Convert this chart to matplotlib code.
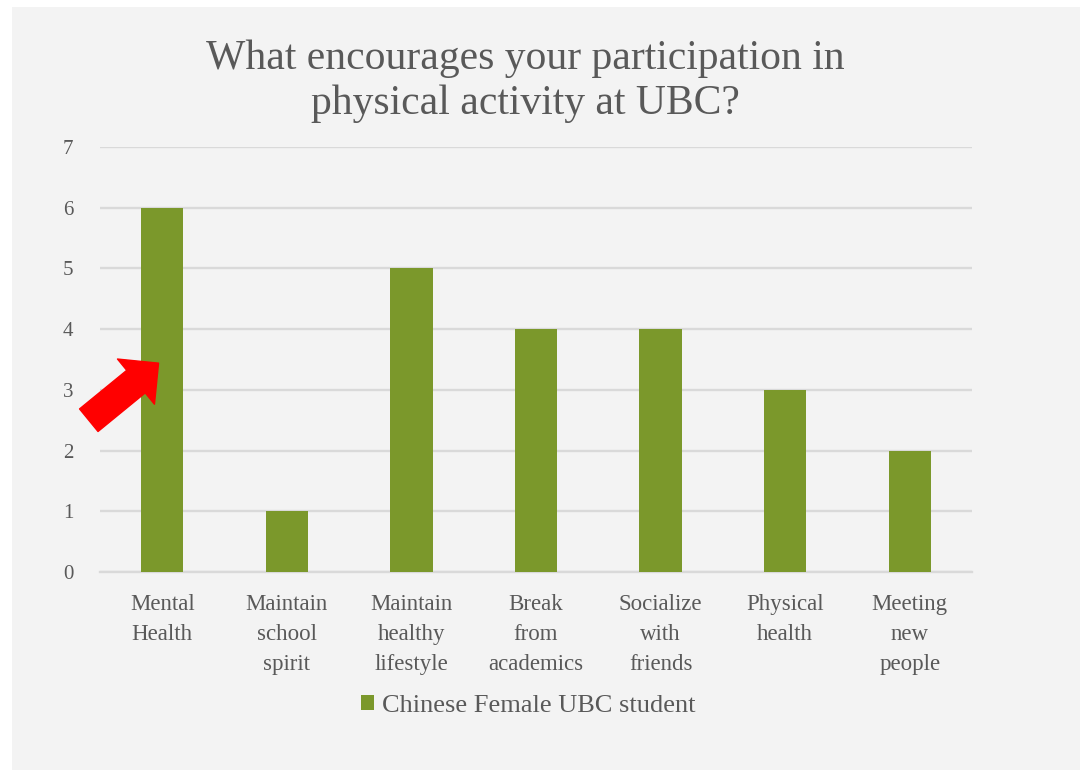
import matplotlib
matplotlib.use("Agg")
import matplotlib.pyplot as plt
from matplotlib.patches import Rectangle, FancyArrowPatch

categories = ["Mental\nHealth", "Maintain\nschool\nspirit", "Maintain\nhealthy\nlifestyle",
              "Break\nfrom\nacademics", "Socialize\nwith\nfriends", "Physical\nhealth",
              "Meeting\nnew\npeople"]
values = [6, 1, 5, 4, 4, 3, 2]
series_name = "Chinese Female UBC student"
title = "What encourages your participation in\nphysical activity at UBC?"

plt.rcParams['font.family'] = ['Liberation Serif', 'DejaVu Serif']
text_color = "#595959"
bar_color = "#7B982B"
grid_color = "#D9D9D9"

fig = plt.figure(figsize=(10.84, 7.76), dpi=100, facecolor="white")
# slide background
fig.patches.append(Rectangle((12/1084, 1-770/776), (1080-12)/1084, (770-7)/776,
                             transform=fig.transFigure, facecolor="#F3F3F3",
                             edgecolor="none", zorder=-10))

ax = fig.add_axes([100/1084, 1-572/776, (972-100)/1084, (572-147)/776])
ax.set_facecolor("none")
x = list(range(len(categories)))
bars = ax.bar(x, values, width=0.34, color=bar_color, zorder=3, label=series_name)
ax.set_xlim(-0.5, len(categories)-0.5)
ax.set_ylim(0, 7)
ax.set_yticks(range(0, 8))
ax.yaxis.grid(True, color=grid_color, linewidth=1.7, zorder=0)
ax.set_axisbelow(True)
for s in ["top", "right", "left"]:
    ax.spines[s].set_visible(False)
ax.spines["bottom"].set_color(grid_color)
ax.spines["bottom"].set_linewidth(1.7)
ax.tick_params(axis="both", length=0, colors=text_color)
ax.tick_params(axis="y", labelsize=15, pad=19)
ax.set_xticks(x)
ax.set_xticklabels(categories, fontsize=16.5, linespacing=1.55, color=text_color)
ax.tick_params(axis="x", pad=16)

fig.text(525/1084, 1-81/776, title, ha="center", va="center", fontsize=30,
         color=text_color, linespacing=1.22)

leg = fig.legend(loc="center", bbox_to_anchor=(528/1084, 1-706/776), frameon=False,
                 fontsize=19, handlelength=0.5, handleheight=0.5, handletextpad=0.3,
                 labelcolor=text_color)

# red arrow pointing at the Mental Health bar
arrow = FancyArrowPatch((-0.59, 2.50), (-0.03, 3.44), transform=ax.transData,
                        arrowstyle="simple,head_length=1.0,head_width=2.0,tail_width=1.0",
                        mutation_scale=21, color="#FF0000", clip_on=False, zorder=5,
                        shrinkA=0, shrinkB=0)
ax.add_patch(arrow)

fig.savefig("out.png", dpi=100, facecolor=fig.get_facecolor())
